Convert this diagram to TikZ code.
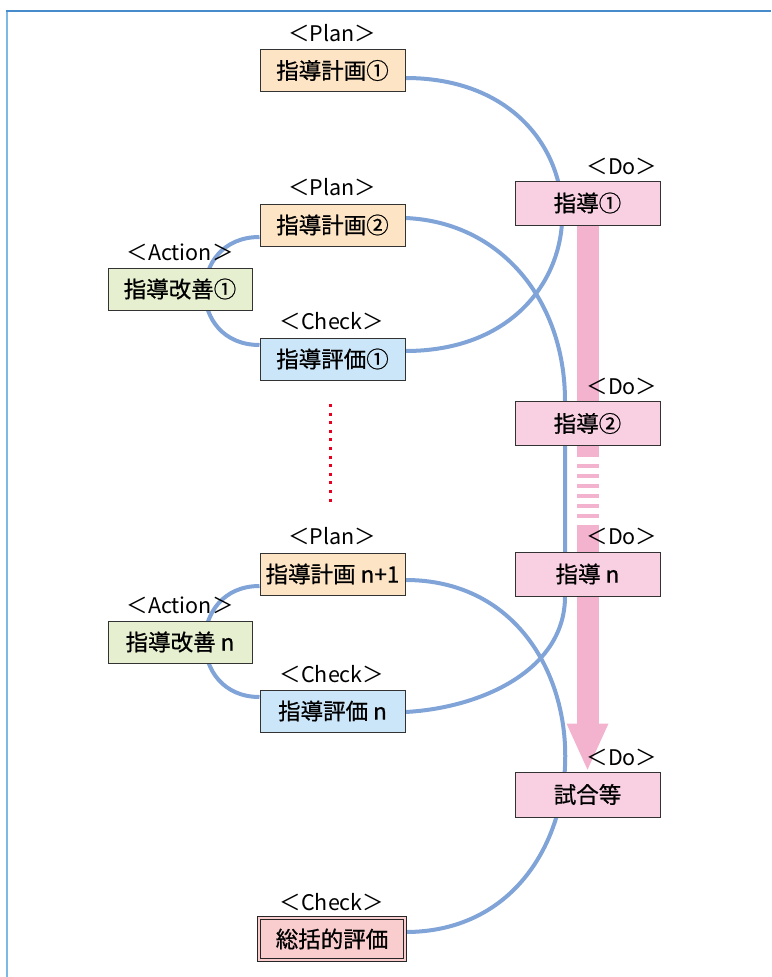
\documentclass[tikz,border=0pt]{standalone}
\usepackage{fontspec}
\setmainfont{Noto Sans CJK JP}
\newfontfamily\boxfont{Noto Sans CJK JP}[FakeBold=0.7]
\usetikzlibrary{positioning,arrows.meta,backgrounds}
\definecolor{planPeach}{RGB}{253,228,197}
\definecolor{doPink}{RGB}{248,208,226}
\definecolor{actGreen}{RGB}{230,239,208}
\definecolor{checkBlue}{RGB}{204,230,249}
\definecolor{sumRed}{RGB}{249,205,205}
\definecolor{cycleBlue}{RGB}{128,163,216}
\definecolor{barPink}{RGB}{243,178,206}
\definecolor{frameBlue}{RGB}{70,140,205}
\definecolor{frameLight}{RGB}{125,185,228}
\definecolor{dotRed}{RGB}{232,0,30}

\begin{document}
\begin{tikzpicture}[x=1pt,y=-1pt,
    box/.style={draw=black!80,line width=1pt,minimum width=145pt,minimum height=42pt,inner sep=0pt,font=\boxfont\fontsize{22.5}{26}\selectfont},
    tag/.style={inner sep=0pt,font=\fontsize{21.5}{25}\selectfont},
    pdcaline/.style={draw=cycleBlue,line width=4pt},
    dobar/.style={draw=barPink,line width=22pt}]
    \useasboundingbox (0,0) rectangle (771,977);
    % frame
    \draw[frameLight,line width=2pt] (7,977) -- (7,11);
    \draw[frameBlue,line width=1.5pt] (6,11) -- (771,11);

    % Plan / Check / Action column
    \node[tag] (plan1tag) at (332,33) {＜Plan＞};
    \node[box,fill=planPeach] (plan1) at (332.5,70.5) {指導計画①};
    \node[tag] (plan2tag) at (332,187) {＜Plan＞};
    \node[box,fill=planPeach] (plan2) at (332.5,225) {指導計画②};
    \node[tag] (act1tag) at (180,252) {＜Action＞};
    \node[box,fill=actGreen,minimum width=144pt] (act1) at (180,289) {指導改善①};
    \node[tag] (check1tag) at (332,321) {＜Check＞};
    \node[box,fill=checkBlue] (check1) at (332.5,359) {指導評価①};

    \node[tag] (planNtag) at (332,536) {＜Plan＞};
    \node[box,fill=planPeach] (planN) at (332.5,574) {指導計画 n+1};
    \node[tag] (actNtag) at (180,605) {＜Action＞};
    \node[box,fill=actGreen,minimum width=144pt] (actN) at (180,642) {指導改善 n};
    \node[tag] (checkNtag) at (332,674) {＜Check＞};
    \node[box,fill=checkBlue] (checkN) at (332.5,711) {指導評価 n};

    \node[tag] (sumtag) at (332,902) {＜Check＞};
    \node[box,fill=sumRed,draw=black!85,double=sumRed,double distance=2pt,line width=1pt,minimum width=146pt,minimum height=42pt] (summary) at (332,939) {総括的評価};

    % Do column
    \node[tag] (do1tag) at (622,166) {＜Do＞};
    \node[box,fill=doPink,minimum height=44pt] (do1) at (587.5,203) {指導①};
    \node[tag] (do2tag) at (622,386) {＜Do＞};
    \node[box,fill=doPink,minimum height=44pt] (do2) at (587.5,423.5) {指導②};
    \node[tag] (doNtag) at (622,536) {＜Do＞};
    \node[box,fill=doPink,minimum height=44pt] (doN) at (587.5,574) {指導 n};
    \node[tag] (gametag) at (622,757) {＜Do＞};
    \node[box,fill=doPink,minimum height=45pt] (game) at (587.5,794.5) {試合等};

    % dotted gap
    \coordinate (dotsA) at (330,404);
    \coordinate (dotsB) at (330,502);
    \draw[dotRed,line width=3pt,dash pattern=on 3pt off 5.6pt] (dotsA) -- (dotsB);

    \begin{scope}[on background layer]
        % cycles
        \draw[pdcaline] ([yshift=-7.5pt]plan1.east) .. controls +(209,0) and +(209,0) .. ([yshift=8pt]check1.east);
        \draw[pdcaline] ([yshift=14pt]check1.west) .. controls +(-73,0) and +(-73,0) .. ([yshift=-12pt]plan2.west);
        \draw[pdcaline] ([yshift=7pt]plan2.east) .. controls +(95,4) and +(0,-101) .. ([xshift=-22.5pt]do2.north)
            -- ([xshift=-22.5pt]doN.south) .. controls +(0,74) and +(75,-4) .. ([yshift=-1pt]checkN.east);
        \draw[pdcaline] ([yshift=14pt]checkN.west) .. controls +(-73,0) and +(-73,0) .. ([yshift=-12pt]planN.west);
        \draw[pdcaline] ([yshift=-6pt]planN.east) .. controls +(213,0) and +(213,0) .. ([yshift=7pt]summary.east);

        % Do arrow
        \coordinate (gapA) at (587.5,457);
        \coordinate (stripeA) at (587.5,464);
        \coordinate (stripeB) at (587.5,518);
        \coordinate (gapB) at (587.5,525);
        \draw[dobar] (do1.south) -- (gapA);
        \draw[dobar,dash pattern=on 4pt off 6pt] (stripeA) -- (stripeB);
        \draw[dobar,-{Triangle[width=38pt,length=48pt]}] (gapB) -- (game.north);
    \end{scope}
\end{tikzpicture}
\end{document}
